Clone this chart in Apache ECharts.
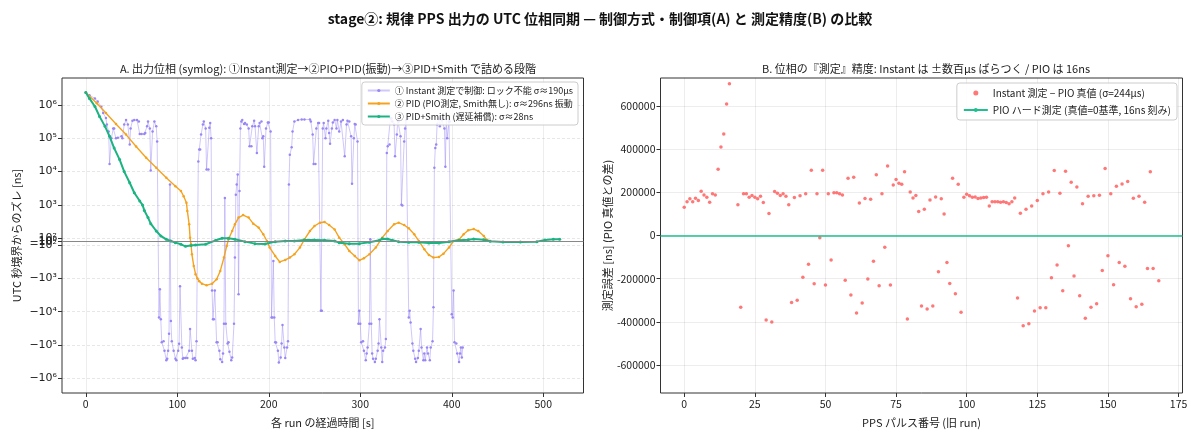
<!DOCTYPE html>
<html><head><meta charset="utf-8">
<script src="https://cdn.jsdelivr.net/npm/echarts@6/dist/echarts.min.js"></script>
<style>html,body{margin:0;padding:0;background:#fff}#c{width:1200px;height:440px}</style>
</head><body><div id="c"></div>
<script>
// ---- data (panel A: elapsed time [s], phase offset [ns]) ----
const instantData = [[0,2.4e6],[4,2.0e6],[10,1.6e6],[13,1.3e6],[17,9e5],[19,5.8e5],[22,4.1e5],[23,2.6e5],[25,1.6e5],[26,1.7e4],[28,1.0e5],[30,2.0e5],[31,2.0e5],[33,1.0e5],[35,1.05e5],[39,1.15e5],[40,1.0e5],[42,2.6e5],[44,3.6e5],[46,2.6e5],[48,6.5e4],[49,2.0e5],[51,3.4e5],[53,3.6e5],[56,3.6e5],[58,3.2e5],[59,1.35e5],[61,1.35e5],[64,1.35e5],[65,1.45e5],[67,2.3e5],[68,3.2e5],[70,2.0e5],[71,1.07e4],[73,1.6e5],[75,3.2e5],[77,2.3e5],[78,8.1e4],[80,-1.5e4],[81,-2.1e3],[82,-1.7e4],[83,-8.3e4],[85,-7.8e4],[86,-1.5e5],[88,-2.9e5],[89,-2.6e5],[90,-1.5e5],[91,-4.6e4],[92,4.1e3],[93,-1.9e4],[94,-7.8e4],[96,-1.5e5],[98,-2.6e5],[99,-2.9e5],[101,-1.5e5],[102,-9.3e4],[103,-1.7e3],[105,-1.2e5],[106,-2.6e5],[107,-2.5e5],[109,-2.5e5],[111,-2.5e5],[113,-1.5e5],[114,-3.3e4],[116,-1.5e5],[117,-2.6e5],[119,-2.5e5],[120,-2.9e5],[121,-7.8e4],[123,2.0e4],[124,4.6e4],[125,4.6e4],[126,1.3e5],[128,2.6e5],[129,3.2e5],[131,2.0e5],[132,1.15e4],[134,1.15e4],[135,2.1e5],[136,2.9e5],[137,1.0e5],[138,-2.3e3],[139,-1.7e4],[140,-1.7e4],[141,-2.3e3],[143,-8.3e4],[144,-8.3e4],[146,-1.5e5],[147,-2.7e5],[149,-3.3e5],[150,-1.8e5],[151,-2.3e4],[152,1.6e3],[153,-2.3e4],[155,-9e4],[156,-8.3e4],[157,-1.6e5],[159,-2.9e5],[160,-2.4e5],[162,-2.3e4],[163,-234],[164,2.0e3],[165,4.1e3],[166,8.1e3],[167,-3e3],[168,2.6e3],[169,2e5],[170,3.2e5],[171,3.6e5],[173,2.7e5],[174,2.9e5],[176,2.6e5],[178,2e5],[179,5.8e4],[181,5.8e4],[182,2.3e5],[184,3.4e5],[185,2.3e5],[187,3.6e4],[189,2.3e5],[190,2.9e5],[192,3.2e5],[193,1e5],[194,1.15e5],[195,1.4e4],[197,2e5],[199,3e5],[200,3e5],[202,1.6e5],[203,-1.5e4],[204,-1.5e4],[205,-295],[206,-1.5e4],[207,-8.3e4],[208,-8.5e4],[210,-1.5e5],[211,-3.4e5],[213,-2.4e5],[214,-9e4],[215,-2.5e4],[217,-1.2e5],[218,-2.5e5],[220,-1.2e5],[221,-7.8e4],[222,4.1e3],[223,3.2e4],[225,5.4e4],[226,1.6e5],[228,3.2e5],[232,3.6e5],[236,3.7e5],[239,3.7e5],[245,3.7e5],[246,3.2e5],[248,1.3e5],[249,1.7e4],[251,1.7e4],[252,2e5],[254,2.9e5],[255,2.9e5],[257,-9.3e3],[258,-9.3e3],[259,2e5],[260,2.9e5],[262,1e5],[263,2e5],[265,3.4e5],[266,1.45e5],[267,6.9e4],[269,2e5],[270,3e5],[272,3.6e5],[274,2e5],[275,3.6e5],[277,1.6e5],[279,3.2e5],[281,3.6e5],[283,2.9e4],[285,2.6e5],[286,3.4e5],[288,3.2e5],[290,1.15e5],[291,4.3e3],[293,1e5],[294,2.7e5],[295,2.6e5],[297,8e4],[298,-2.3e4],[299,-9.3e3],[300,-2.3e4],[301,-8.3e4],[303,-7.8e4],[304,-1.5e5],[306,-2.9e5],[307,-1.8e5],[308,-1.2e5],[310,-2.3e4],[311,63],[312,-2.3e4],[313,-1.8e5],[314,-2.6e5],[316,-3.3e5],[317,-2.6e5],[319,-1.5e5],[320,-9e4],[321,-1.7e4],[323,-1.2e5],[324,-3.3e5],[325,-1.5e5],[327,-1.2e5],[328,-6.6e4],[329,3.6e4],[330,5.8e4],[332,6.5e4],[333,4.1e5],[334,4e5],[335,3.2e5],[337,2.6e5],[338,2.9e4],[340,1.3e5],[341,3.6e5],[342,3.2e5],[344,1.15e5],[345,1e3],[346,950],[348,8e4],[349,2e5],[350,3.6e5],[352,4e5],[353,-1.5e4],[354,-9.3e3],[355,-2.1e4],[357,-9e4],[358,-1.5e5],[360,-2.6e5],[361,-3.3e5],[363,-2.5e5],[364,-1.5e5],[366,-3.3e4],[367,-1.2e5],[369,-2.9e5],[370,-1.8e5],[371,-2.9e5],[373,-1.2e5],[374,-1.8e5],[376,-2.9e5],[377,-1.2e5],[379,-7.8e4],[380,-7.4e3],[381,1.3e4],[382,5.1e4],[383,6.5e4],[384,2.6e5],[386,4e5],[387,2.3e5],[389,3.6e5],[390,4e5],[392,2e5],[393,1.4e4],[394,4e5],[395,1e5],[397,3.2e5],[398,3.2e5],[400,-1.2e4],[401,-1.5e4],[402,-2.3e3],[403,-8.3e4],[405,-9e4],[406,-1.8e5],[408,-3.3e5],[409,-1.8e5],[410,-1.2e5],[411,-2.4e5],[412,-1.2e5]];

const pidData = [[0,2.4e6],[12,1.15e6],[22,5.8e5],[33,2.7e5],[44,1.3e5],[55,5.7e4],[66,2.6e4],[77,1.3e4],[88,6.5e3],[98,3.6e3],[104,2.6e3],[107,1.8e3],[110,1.15e3],[111,650],[113,257],[114,102],[115,-72],[116,-186],[118,-417],[120,-741],[122,-1000],[124,-1200],[127,-1430],[132,-1600],[138,-1430],[143,-1050],[147,-590],[151,-234],[154,-105],[156,63],[160,162],[163,257],[167,410],[172,490],[178,410],[183,270],[189,204],[194,129],[198,18],[201,-117],[207,-209],[212,-316],[218,-275],[223,-234],[228,-186],[234,-117],[239,63],[245,162],[250,229],[256,288],[261,302],[266,245],[272,180],[277,102],[283,-72],[288,-148],[294,-209],[299,-282],[304,-245],[310,-186],[317,-117],[324,102],[330,162],[337,257],[342,288],[348,245],[353,195],[359,129],[364,18],[370,-132],[375,-195],[380,-234],[386,-224],[391,-178],[397,-117],[402,18],[408,60],[413,130],[418,170],[424,185],[429,162],[435,115],[438,54],[441,18]];

const smithData = [[0,2.4e6],[4,1.6e6],[10,9.1e5],[15,4.6e5],[21,2.3e5],[26,1.15e5],[31,5.1e4],[37,2.3e4],[42,1.0e4],[48,4.6e3],[53,2.3e3],[59,1.3e3],[62,980],[64,675],[68,410],[71,270],[77,162],[82,115],[88,63],[93,18],[98,-27],[104,-72],[109,-107],[115,-102],[120,-90],[131,-72],[142,36],[149,90],[156,90],[163,63],[174,0],[185,-54],[196,-63],[207,0],[218,18],[228,18],[239,45],[250,45],[261,36],[272,18],[277,-27],[288,-54],[299,-54],[310,-18],[321,36],[324,81],[330,72],[335,36],[342,0],[353,-18],[364,-18],[375,-36],[386,-36],[397,0],[408,36],[418,54],[424,72],[435,54],[442,9],[456,-9],[475,-9],[493,0],[502,45],[511,63],[518,63]];

// ---- data (panel B: PPS pulse index, Instant − PIO error [ns]) ----
const pulseIdx = [0,1,2,3,4,5,6,7,8,9,10,11,12,13,14,15,16,19,21,22,23,24,25,26,27,28,30,32,33,34,35,36,37,39,41,43,45,47,49,51,53,54,55,56,58,60,62,64,66,68,70,72,74,75,76,77,78,80,81,82,83,85,87,89,91,92,95,97,99,100,101,102,103,104,105,106,107,108,109,110,111,112,113,114,115,116,117,119,121,123,125,127,129,131,133,135,137,139,141,143,145,147,149,151,153,155,157,159,161,163,165,
  20,29,31,38,40,42,44,46,48,50,52,57,59,61,63,65,67,69,71,73,79,84,86,88,90,93,94,96,98,118,120,122,124,126,128,130,132,134,136,138,140,142,144,146,148,150,152,154,156,158,160,162,164,166,168];
const instantErr = [131e3,157e3,170e3,157e3,173e3,162e3,205e3,188e3,177e3,154e3,193e3,188e3,307e3,410e3,471e3,609e3,703e3,142e3,193e3,194e3,177e3,185e3,177e3,170e3,182e3,153e3,102e3,204e3,196e3,185e3,193e3,182e3,142e3,176e3,184e3,194e3,302e3,194e3,302e3,194e3,198e3,198e3,194e3,188e3,265e3,270e3,151e3,171e3,168e3,282e3,194e3,322e3,234e3,259e3,242e3,237e3,296e3,202e3,174e3,185e3,111e3,122e3,165e3,179e3,170e3,100e3,265e3,237e3,177e3,191e3,184e3,177e3,179e3,171e3,174e3,176e3,177e3,137e3,157e3,157e3,157e3,154e3,157e3,153e3,147e3,156e3,174e3,103e3,122e3,137e3,162e3,194e3,202e3,301e3,196e3,298e3,247e3,225e3,147e3,182e3,184e3,187e3,310e3,193e3,228e3,239e3,250e3,173e3,182e3,154e3,296e3,
  -332e3,-392e3,-401e3,-310e3,-300e3,-193e3,-133e3,-224e3,-11e3,-230e3,-113e3,-207e3,-276e3,-359e3,-313e3,-202e3,-119e3,-233e3,-54e3,-230e3,-387e3,-327e3,-341e3,-327e3,-168e3,-125e3,-222e3,-270e3,-356e3,-290e3,-418e3,-409e3,-350e3,-335e3,-335e3,-196e3,-137e3,-256e3,-48e3,-188e3,-279e3,-384e3,-333e3,-316e3,-162e3,-94e3,-228e3,-125e3,-142e3,-293e3,-330e3,-319e3,-153e3,-153e3,-210e3];
const pioTrue = 0;

// ---- tick labels ----
const xTicksA = [0,100,200,300,400,500];
const yTicksA = [1e6,1e5,1e4,1e3,1e2,1,-1,-1e2,-1e3,-1e4,-1e5,-1e6];
const xTicksB = [0,25,50,75,100,125,150,175];
const yTicksB = [-600000,-400000,-200000,0,200000,400000,600000];

// symlog scale (linthresh 100, linscale 0.1, base 10)
const LT = 100, LS = 0.1/(1-0.1);
function symlog(v){ const a=Math.abs(v); if(a<=LT) return v/LT*LS; return Math.sign(v)*(LS+Math.log10(a/LT)); }
const SUP = {'0':'⁰','1':'¹','2':'²','3':'³','4':'⁴','5':'⁵','6':'⁶','7':'⁷','8':'⁸','9':'⁹'};
function expLabel(v){ const e=Math.round(Math.log10(Math.abs(v))); return (v<0?'−':'')+'10'+String(e).split('').map(c=>SUP[c]).join(''); }
const yTickPosA = yTicksA.map(symlog);
function labelForT(t){ let best=0,bd=1e9; yTickPosA.forEach((p,i)=>{const d=Math.abs(p-t); if(d<bd){bd=d;best=i;}}); return expLabel(yTicksA[best]); }

const FONT = 'Noto Sans CJK JP';
const gridLine = {show:true, lineStyle:{color:'rgba(0,0,0,0.09)', width:0.8}};
const tickStyle = {show:true, length:4, lineStyle:{color:'#333'}};

const chart = echarts.init(document.getElementById('c'), null, {renderer:'canvas'});
chart.setOption({
  animation:false,
  backgroundColor:'#fff',
  textStyle:{fontFamily:FONT},
  title:[
    {text:'stage②: 規律 PPS 出力の UTC 位相同期 — 制御方式・制御項(A) と 測定精度(B) の比較', left:'center', top:7, textStyle:{fontSize:14, fontWeight:'bold', color:'#111', fontFamily:FONT}},
    {text:'A. 出力位相 (symlog): ①Instant測定→②PIO+PID(振動)→③PID+Smith で詰める段階', left:323, top:58, textAlign:'center', textStyle:{fontSize:11, fontWeight:'normal', color:'#222', fontFamily:FONT}},
    {text:'B. 位相の『測定』精度: Instant は ±数百µs ばらつく / PIO は 16ns', left:921, top:58, textAlign:'center', textStyle:{fontSize:11, fontWeight:'normal', color:'#222', fontFamily:FONT}}
  ],
  grid:[
    {left:62, top:78, width:521.5, height:315, show:true, borderColor:'#333', borderWidth:1, backgroundColor:'transparent'},
    {left:660.5, top:78, width:522, height:315, show:true, borderColor:'#333', borderWidth:1, backgroundColor:'transparent'}
  ],
  legend:[
    {orient:'vertical', right:622, top:82, itemWidth:22, itemHeight:4, itemGap:4,
     backgroundColor:'rgba(255,255,255,0.85)', borderColor:'#ccc', borderWidth:1, borderRadius:3, padding:[4,5,4,5],
     textStyle:{fontSize:9, color:'#222', fontFamily:FONT},
     data:['① Instant 測定で制御: ロック不能 σ≈190µs','② PID (PIO測定, Smith無し): σ≈296ns 振動','③ PID+Smith (遅延補償): σ≈28ns']},
    {orient:'vertical', right:23, top:83, itemWidth:24, itemHeight:5, itemGap:7,
     backgroundColor:'rgba(255,255,255,0.85)', borderColor:'#ccc', borderWidth:1, borderRadius:3, padding:[5,6,5,6],
     textStyle:{fontSize:10, color:'#222', fontFamily:FONT},
     data:[{name:'Instant 測定 − PIO 真値 (σ=244µs)', icon:'circle'},'PIO ハード測定 (真値=0基準, 16ns 刻み)']}
  ],
  xAxis:[
    {gridIndex:0, type:'value', min:-26, max:544, name:'各 run の経過時間 [s]', nameLocation:'middle', nameGap:24,
     nameTextStyle:{fontSize:11, color:'#222', fontFamily:FONT},
     axisLine:{show:false, onZero:false}, axisTick:Object.assign({customValues:xTicksA}, tickStyle),
     axisLabel:{customValues:xTicksA, fontSize:10.5, color:'#222', margin:6}, splitLine:gridLine},
    {gridIndex:1, type:'value', min:-8.4, max:176.4, name:'PPS パルス番号 (旧 run)', nameLocation:'middle', nameGap:24,
     nameTextStyle:{fontSize:11, color:'#222', fontFamily:FONT},
     axisLine:{show:false, onZero:false}, axisTick:Object.assign({customValues:xTicksB}, tickStyle),
     axisLabel:{customValues:xTicksB, fontSize:10.5, color:'#222', margin:6}, splitLine:gridLine}
  ],
  yAxis:[
    {gridIndex:0, type:'value', min:-4.56, max:4.93, name:'UTC 秒境界からのズレ [ns]', nameLocation:'middle', nameGap:40, nameRotate:90,
     nameTextStyle:{fontSize:11, color:'#222', fontFamily:FONT},
     axisLine:{show:false, onZero:false}, axisTick:Object.assign({customValues:yTickPosA}, tickStyle),
     axisLabel:{customValues:yTickPosA, fontSize:11, color:'#222', margin:5, fontFamily:'DejaVu Sans', formatter:(t)=>labelForT(t)},
     splitLine:{show:true, lineStyle:{color:'rgba(0,0,0,0.12)', width:0.8, type:[3,2]}}},
    {gridIndex:1, type:'value', min:-730000, max:730000, name:'測定誤差 [ns] (PIO 真値との差)', nameLocation:'middle', nameGap:47, nameRotate:90,
     nameTextStyle:{fontSize:11, color:'#222', fontFamily:FONT},
     axisLine:{show:false, onZero:false}, axisTick:Object.assign({customValues:yTicksB}, tickStyle),
     axisLabel:{customValues:yTicksB, fontSize:10.5, color:'#222', margin:5, formatter:(v)=> v<0 ? '-'+Math.abs(v) : String(v)},
     splitLine:gridLine}
  ],
  series:[
    {name:'① Instant 測定で制御: ロック不能 σ≈190µs', type:'line', xAxisIndex:0, yAxisIndex:0,
     data:instantData.map(d=>[d[0], symlog(d[1])]), symbol:'circle', symbolSize:2.5, showAllSymbol:true,
     lineStyle:{color:'rgba(150,130,245,0.45)', width:1}, itemStyle:{color:'#9a86f5'}, z:2},
    {name:'② PID (PIO測定, Smith無し): σ≈296ns 振動', type:'line', xAxisIndex:0, yAxisIndex:0,
     data:pidData.map(d=>[d[0], symlog(d[1])]), symbol:'circle', symbolSize:2.5, showAllSymbol:true,
     lineStyle:{color:'#f5a31f', width:1.4}, itemStyle:{color:'#f5a31f'}, z:3},
    {name:'③ PID+Smith (遅延補償): σ≈28ns', type:'line', xAxisIndex:0, yAxisIndex:0,
     data:smithData.map(d=>[d[0], symlog(d[1])]), symbol:'circle', symbolSize:3, showAllSymbol:true,
     lineStyle:{color:'#1cb383', width:2}, itemStyle:{color:'#1cb383'}, z:4,
     markLine:{silent:true, symbol:'none', label:{show:false}, lineStyle:{color:'#888', width:1, type:'solid'}, data:[{yAxis:symlog(0)}]}},
    {name:'Instant 測定 − PIO 真値 (σ=244µs)', type:'scatter', xAxisIndex:1, yAxisIndex:1,
     data:pulseIdx.map((x,i)=>[x, instantErr[i]]), symbolSize:3.5, itemStyle:{color:'#ff5f5f', opacity:0.85}},
    {name:'PIO ハード測定 (真値=0基準, 16ns 刻み)', type:'line', xAxisIndex:1, yAxisIndex:1, data:[], symbol:'none',
     lineStyle:{color:'#1fbf8f', width:1.6}, itemStyle:{color:'#1fbf8f'},
     markLine:{silent:true, symbol:'none', label:{show:false}, lineStyle:{color:'#1fbf8f', width:1.6, type:'solid'}, data:[{yAxis:pioTrue}]}}
  ]
});
</script>
</body></html>
